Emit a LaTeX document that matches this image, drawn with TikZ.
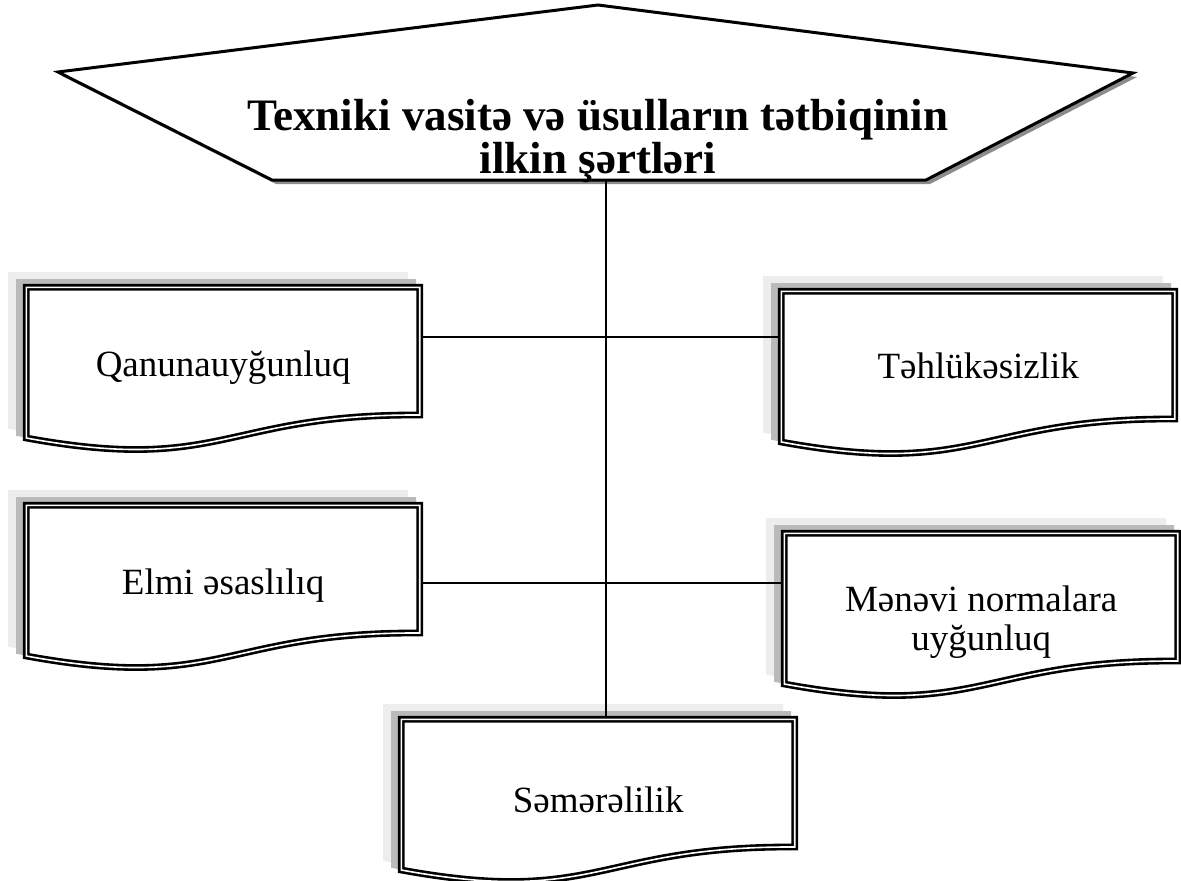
\documentclass[tikz,border=0pt]{standalone}
\usepackage{fontspec}
\setmainfont{Liberation Serif}
\usetikzlibrary{calc}
\tikzset{
  pics/docshape/.style={code={%
    \path[pic actions] (3.3,3.3) -- (396.7,3.3) -- (396.7,131)
      .. controls (200,130) and (200,190) .. (3.3,154) -- cycle;}},
  shadowlight/.style={fill=black!7, draw=black!7, line width=6.6pt},
  shadowdark/.style={fill=black!27, draw=black!27, line width=6.6pt},
  frameline/.style={draw=black, line width=2.6pt, double=white, double distance=1.6pt, fill=white},
  docnode/.style={rectangle, inner sep=0pt, minimum width=400pt, minimum height=167pt,
    anchor=north west, font=\fontsize{37}{39}\selectfont, align=center},
  conn/.style={line width=1.5pt, draw=black},
  hexline/.style={draw=black, line width=3pt, fill=white, line join=miter},
  hexshadow/.style={fill=black!45},
  titletext/.style={font=\fontsize{45}{43}\selectfont\bfseries, align=center, inner sep=0pt}
}
\begin{document}
\begin{tikzpicture}[x=1pt,y=-1pt]
\useasboundingbox (0,0) rectangle (1181,881);
% hexagon
\coordinate (hA) at (598,5);
\coordinate (hB) at (1133,73);
\coordinate (hC) at (926,180);
\coordinate (hD) at (272,180);
\coordinate (hE) at (58,72);
\coordinate (hexbot) at (606,180);
\fill[hexshadow] ($(hA)+(4,4)$) -- ($(hB)+(4,4)$) -- ($(hC)+(4,4)$) -- ($(hD)+(4,4)$) -- ($(hE)+(4,4)$) -- cycle;
\path[hexline] (hA) -- (hB) -- (hC) -- (hD) -- (hE) -- cycle;
\node[titletext] (title) at (598,141) {Texniki vasitə və üsulların tətbiqinin\\ilkin şərtləri};
% box positions
\coordinate (qanpos) at (23,284);
\coordinate (tehpos) at (778,288);
\coordinate (elmpos) at (23,502);
\coordinate (menpos) at (781,530);
\coordinate (sempos) at (398,716);
\foreach \p in {qanpos,tehpos,elmpos,menpos,sempos}{
  \pic[shadowlight] at ($(\p)+(-15,-12)$) {docshape};
  \pic[shadowdark] at ($(\p)+(-7,-5)$) {docshape};
  \pic[frameline] at (\p) {docshape};
}
\node[docnode] (qan) at (qanpos) {\raisebox{2pt}{Qanunauyğunluq}};
\node[docnode] (teh) at (tehpos) {\raisebox{13pt}{Təhlükəsizlik}};
\node[docnode] (elm) at (elmpos) {\raisebox{4pt}{Elmi əsaslılıq}};
\node[docnode, yshift=-8pt] (men) at (menpos) {Mənəvi normalara\\uyğunluq};
\node[docnode] (sem) at (sempos) {Səmərəlilik};
% connectors
\draw[conn] (hexbot) -- (sem.north -| hexbot);
\draw[conn] ([yshift=-53pt]qan.north east) -- ([yshift=-49pt]teh.north west);
\draw[conn] ([yshift=-81pt]elm.north east) -- ([yshift=-45pt]men.north west);
\end{tikzpicture}
\end{document}
